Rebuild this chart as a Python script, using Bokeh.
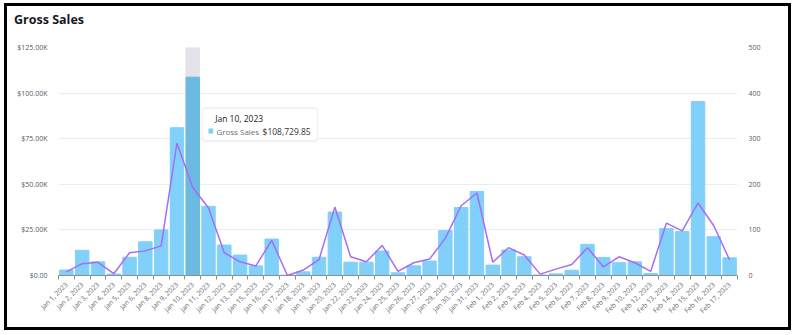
from bokeh.plotting import figure
from bokeh.models import (Range1d, LinearAxis, FixedTicker, BoxAnnotation, Label,
                          ColumnDataSource, Column, Div)
from bokeh.embed import file_html
from bokeh.resources import INLINE
import math

dates = ["Jan 1, 2023", "Jan 2, 2023", "Jan 3, 2023", "Jan 4, 2023", "Jan 5, 2023",
         "Jan 6, 2023", "Jan 8, 2023", "Jan 9, 2023", "Jan 10, 2023", "Jan 11, 2023",
         "Jan 12, 2023", "Jan 13, 2023", "Jan 15, 2023", "Jan 16, 2023", "Jan 17, 2023",
         "Jan 18, 2023", "Jan 19, 2023", "Jan 20, 2023", "Jan 22, 2023", "Jan 23, 2023",
         "Jan 24, 2023", "Jan 25, 2023", "Jan 26, 2023", "Jan 27, 2023", "Jan 29, 2023",
         "Jan 30, 2023", "Jan 31, 2023", "Feb 1, 2023", "Feb 2, 2023", "Feb 3, 2023",
         "Feb 4, 2023", "Feb 5, 2023", "Feb 6, 2023", "Feb 7, 2023", "Feb 8, 2023",
         "Feb 9, 2023", "Feb 10, 2023", "Feb 12, 2023", "Feb 13, 2023", "Feb 14, 2023",
         "Feb 15, 2023", "Feb 16, 2023", "Feb 17, 2023"]

gross_sales = [3000, 13800, 7500, 800, 10000, 18500, 25000, 81000, 108729.85, 37900,
               16700, 11200, 5300, 20000, 200, 2000, 10000, 34800, 7300, 7300,
               13400, 1500, 5300, 7900, 24600, 37300, 46100, 5700, 14000, 10300,
               300, 900, 2900, 17100, 9900, 7000, 7500, 1100, 25700, 24100,
               95400, 21300, 9700]

orders = [8, 26, 29, 4, 50, 54, 65, 290, 193, 148,
          50, 30, 21, 77, 0, 12, 35, 150, 41, 30,
          66, 9, 28, 36, 82, 153, 181, 29, 61, 45,
          3, 14, 24, 61, 19, 41, 28, 9, 115, 98,
          159, 109, 34]

left_ticks = [0, 25000, 50000, 75000, 100000, 125000]
left_tick_labels = ["$0.00", "$25.00K", "$50.00K", "$75.00K", "$100.00K", "$125.00K"]
right_ticks = [0, 100, 200, 300, 400, 500]

title_text = "Gross Sales"
highlight_index = 8
tooltip_date = "Jan 10, 2023"
tooltip_series = "Gross Sales"
tooltip_value = "$108,729.85"

FONT = "Open Sans"
LABEL_COLOR = "#545b64"
BAR_COLOR = "#80d0fa"
HL_COLOR = "#6cb9e2"
LINE_COLOR = "#a66cf5"

n = len(dates)
xs = list(range(n))
colors = [HL_COLOR if i == highlight_index else BAR_COLOR for i in xs]
src = ColumnDataSource(dict(x=xs, sales=gross_sales, orders=orders, color=colors))

p = figure(width=781, height=293, x_range=Range1d(-0.5, n - 0.5),
           y_range=Range1d(0, 125000), output_backend="svg", toolbar_location=None,
           min_border_left=51, min_border_right=51, min_border_top=13,
           min_border_bottom=52, margin=0)
p.outline_line_color = None
p.background_fill_color = "white"
p.border_fill_color = "white"

p.extra_y_ranges = {"orders": Range1d(0, 500)}

# hover band
p.vbar(x=[highlight_index], top=[125000], width=0.85, color="#e3e3e8")
p.vbar(x="x", top="sales", width=0.85, color="color", source=src)
p.line(x="x", y="orders", source=src, y_range_name="orders", color=LINE_COLOR,
       line_width=1.5)

# left axis
ya = p.yaxis[0]
ya.ticker = FixedTicker(ticks=left_ticks)
ya.major_label_overrides = {t: l for t, l in zip(left_ticks, left_tick_labels)}
ya.axis_line_color = None
ya.major_tick_line_color = None
ya.minor_tick_line_color = None
ya.major_label_standoff = 5
ya.major_label_text_font = FONT
ya.major_label_text_font_size = "7px"
ya.major_label_text_color = LABEL_COLOR

# right axis
ra = LinearAxis(y_range_name="orders", ticker=FixedTicker(ticks=right_ticks))
ra.axis_line_color = None
ra.major_tick_line_color = None
ra.minor_tick_line_color = None
ra.major_label_standoff = 5
ra.major_label_text_font = FONT
ra.major_label_text_font_size = "7px"
ra.major_label_text_color = LABEL_COLOR
p.add_layout(ra, "right")

# x axis
xa = p.xaxis[0]
xa.ticker = FixedTicker(ticks=xs, minor_ticks=[i - 0.5 for i in range(n + 1)])
xa.major_label_overrides = {i: d for i, d in enumerate(dates)}
xa.major_label_orientation = math.pi / 4
xa.major_tick_out = 0
xa.major_tick_in = 0
xa.minor_tick_out = 4
xa.minor_tick_in = 0
xa.minor_tick_line_color = "#8a8f96"
xa.axis_line_color = "#8a8f96"
xa.major_label_standoff = 4
xa.major_label_text_font = FONT
xa.major_label_text_font_size = "6.8px"
xa.major_label_text_color = "#5f6670"

p.xgrid.grid_line_color = None
p.ygrid.grid_line_color = "#eaeded"
p.ygrid.ticker = FixedTicker(ticks=left_ticks)

# tooltip
hx = highlight_index
shadow = BoxAnnotation(left=hx + 0.60, right=hx + 7.95, top=92300, bottom=73000,
                       fill_color="#000000", fill_alpha=0.06, line_color=None,
                       border_radius=4)
box = BoxAnnotation(left=hx + 0.62, right=hx + 7.9, top=91600, bottom=74000,
                    fill_color="white", fill_alpha=1.0, line_color="#e4e6e8",
                    line_width=1, border_radius=3)
sq = BoxAnnotation(left=hx + 1.0, right=hx + 1.3, top=80600, bottom=77900,
                   fill_color=BAR_COLOR, fill_alpha=1.0, line_color=None)
p.add_layout(shadow)
p.add_layout(box)
p.add_layout(sq)
p.add_layout(Label(x=hx + 1.42, y=86100, text=tooltip_date, text_font=FONT,
                   text_font_size="8.5px", text_color="#16191f",
                   text_baseline="middle"))
p.add_layout(Label(x=hx + 1.5, y=78900, text=tooltip_series, text_font=FONT,
                   text_font_size="8px", text_color="#687078",
                   text_baseline="middle"))
p.add_layout(Label(x=hx + 4.42, y=78900, text=tooltip_value, text_font=FONT,
                   text_font_size="8.5px", text_color="#2f343b",
                   text_baseline="middle", text_font_style="normal"))

title = Div(text=title_text, width=781, height=28, margin=0,
            styles={"font-family": FONT, "font-size": "12.5px",
                    "font-weight": "bold", "color": "#16191f",
                    "padding-left": "7px", "line-height": "28px",
                    "box-sizing": "border-box"})

root = Column(children=[title, p], margin=(3, 0, 0, 4), spacing=0,
              styles={"border": "3px solid black"})

open("out.html", "w").write(file_html(root, INLINE))
